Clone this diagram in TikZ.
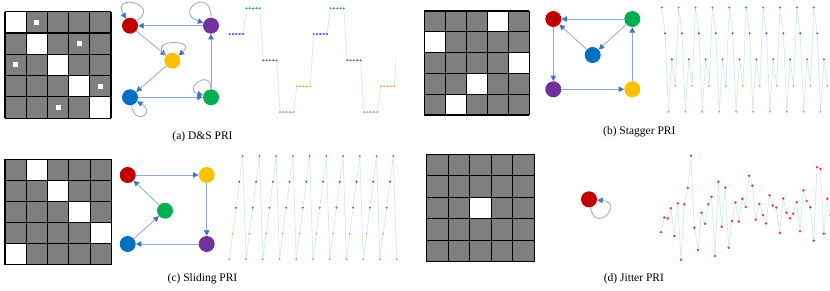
\documentclass[tikz,border=0pt]{standalone}
\usepackage{fontspec}
\setmainfont{Liberation Serif}
\usetikzlibrary{arrows.meta}
\definecolor{nred}{HTML}{C00000}
\definecolor{npurple}{HTML}{7030A0}
\definecolor{norange}{HTML}{FFC000}
\definecolor{nblue}{HTML}{0070C0}
\definecolor{ngreen}{HTML}{00B050}
\definecolor{edgec}{HTML}{8EAADB}
\definecolor{tipc}{HTML}{4472C4}
\definecolor{cellg}{HTML}{7F7F7F}
\definecolor{plinec}{HTML}{C6E3EE}
\definecolor{pgreen}{HTML}{3E9A5E}
\definecolor{pblue}{HTML}{4646F5}
\definecolor{ppurple}{HTML}{9A45B5}
\definecolor{porange}{HTML}{F2B23A}
\definecolor{pred}{HTML}{F28A8A}
\definecolor{jred}{HTML}{F53C3C}
\tikzset{
  st/.style={circle, minimum size=16pt, inner sep=0pt},
  edge/.style={draw=edgec, line width=0.8pt, -{Triangle[length=5.5pt,width=5.5pt,color=tipc]}},
  pline/.style={draw=plinec, line width=0.5pt},
  captext/.style={font=\fontsize{11.5}{13}\selectfont, inner sep=0pt},
  gline/.style={black, line width=1.1pt},
}
% grid: x0, ytop, cw, ch, white cells c/r
\newcommand\pgrid[5]{%
  \fill[cellg] (#1,-#2) rectangle ({#1+5*#3},{-#2-5*#4});
  \foreach \c/\r in {#5} \fill[white] ({#1+\c*#3},{-#2-\r*#4}) rectangle ++(#3,-#4);
  \foreach \k in {0,...,5} {
    \draw[gline] ({#1+\k*#3},-#2) -- ++(0,{-5*#4});
    \draw[gline] (#1,{-#2-\k*#4}) -- ++({5*#3},0);
  }
}
\newcommand\dslev[1]{\ifcase#1\relax\def\yy{34}\def\cc{pblue}\or\def\yy{8.3}\def\cc{pgreen}\or\def\yy{60.3}\def\cc{ppurple}\or\def\yy{112}\def\cc{pred}\or\def\yy{86.3}\def\cc{porange}\fi}
\newcommand\stlev[1]{\ifcase#1\relax\def\yy{7.5}\def\cc{pgreen}\or\def\yy{33.3}\def\cc{pblue}\or\def\yy{111.7}\def\cc{pred}\or\def\yy{59.3}\def\cc{ppurple}\or\def\yy{86}\def\cc{porange}\fi}
\newcommand\sllev[1]{\ifcase#1\relax\def\yy{259.3}\def\cc{pred}\or\def\yy{233.7}\def\cc{porange}\or\def\yy{207.7}\def\cc{ppurple}\or\def\yy{181.8}\def\cc{pblue}\or\def\yy{156.2}\def\cc{pgreen}\fi}
\begin{document}
\begin{tikzpicture}[x=1pt,y=1pt]
\useasboundingbox (0,0) rectangle (830,-290);
\fill[white] (0,0) rectangle (830,-290);

% ---------- grids ----------
\pgrid{5}{11.7}{21.2}{21.3}{0/0,1/1,2/2,3/3,4/4}
\foreach \c/\r in {1/0,3/1,0/2,4/3,2/4}
  \fill[white] ({5+(\c+0.5)*21.2-2.5},{-11.7-(\r+0.5)*21.3+2.5}) rectangle ++(5,-5);
\pgrid{424.3}{11}{21}{20.8}{3/0,0/1,4/2,2/3,1/4}
\pgrid{5}{159.3}{21.3}{21.1}{1/0,2/1,3/2,4/3,0/4}
\pgrid{426.7}{154.3}{21.5}{21.5}{2/2}

% ---------- graph (a) ----------
\node[st,fill=nred] (ar) at (130,-25.7) {};
\node[st,fill=npurple] (ap) at (211,-25.7) {};
\node[st,fill=norange] (ao) at (172.3,-60.7) {};
\node[st,fill=nblue] (ab) at (130,-97.3) {};
\node[st,fill=ngreen] (ag) at (211,-97.3) {};
\draw[edge] (ap) -- (ar);
\draw[edge] (ar) -- (ao);
\draw[edge] (ao) -- (ab);
\draw[edge] (ab) -- (ag);
\draw[edge] (ag) -- (ap);
\draw[edge] (ar) to[out=35,in=120,min distance=30pt] (ar);
\draw[edge] (ap) to[out=90,in=160,min distance=32pt] (ap);
\draw[edge] (ao) to[out=140,in=40,min distance=26pt] (ao);
\draw[edge] (ab) to[out=-80,in=-30,min distance=22pt] (ab);
\draw[edge] (ag) to[out=90,in=165,min distance=22pt] (ag);

% ---------- graph (b) ----------
\node[st,fill=nred] (br) at (553.3,-19) {};
\node[st,fill=ngreen] (bg) at (632.3,-19) {};
\node[st,fill=nblue] (bb) at (592.7,-55) {};
\node[st,fill=npurple] (bp) at (553.3,-89.3) {};
\node[st,fill=norange] (bo) at (632.3,-89.3) {};
\draw[edge] (bg) -- (br);
\draw[edge] (bb) -- (br);
\draw[edge] (bg) -- (bb);
\draw[edge] (br) -- (bp);
\draw[edge] (bp) -- (bo);
\draw[edge] (bo) -- (bg);

% ---------- graph (c) ----------
\node[st,fill=nred] (cr) at (127.7,-175) {};
\node[st,fill=norange] (co) at (206.7,-175) {};
\node[st,fill=ngreen] (cg) at (165,-210.7) {};
\node[st,fill=nblue] (cb) at (127.7,-244) {};
\node[st,fill=npurple] (cp) at (206.7,-244) {};
\draw[edge] (cr) -- (co);
\draw[edge] (co) -- (cp);
\draw[edge] (cp) -- (cb);
\draw[edge] (cb) -- (cg);
\draw[edge] (cg) -- (cr);

% ---------- graph (d) ----------
\node[st,fill=nred] (dr) at (589,-199.3) {};
\draw[edge] (dr) to[out=-80,in=-5,min distance=28pt] (dr);

% ---------- plot (a) D&S ----------
\begin{scope}
\clip (225,0) rectangle (396,-120);
\foreach \i in {0,...,50}{
  \pgfmathtruncatemacro\k{mod(floor(\i/5),5)}
  \dslev{\k}
  \coordinate (ds\i) at ({229.6+3.36*\i},-\yy);
}
\foreach \i in {0,...,49}{
  \pgfmathtruncatemacro\j{\i+1}
  \draw[pline] (ds\i) -- (ds\j);
}
\foreach \i in {0,...,50}{
  \pgfmathtruncatemacro\k{mod(floor(\i/5),5)}
  \dslev{\k}
  \fill[\cc] (ds\i) circle (1.1);
}
\end{scope}

% ---------- plot (b) Stagger ----------
\foreach \i in {0,...,49}{
  \pgfmathtruncatemacro\k{mod(\i,5)}
  \stlev{\k}
  \coordinate (sg\i) at ({661.7+3.38*\i},-\yy);
}
\foreach \i in {0,...,48}{
  \pgfmathtruncatemacro\j{\i+1}
  \draw[pline] (sg\i) -- (sg\j);
}
\foreach \i in {0,...,49}{
  \pgfmathtruncatemacro\k{mod(\i,5)}
  \stlev{\k}
  \fill[\cc] (sg\i) circle (1.1);
}

% ---------- plot (c) Sliding ----------
\foreach \i in {0,...,50}{
  \pgfmathtruncatemacro\k{mod(\i,5)}
  \sllev{\k}
  \coordinate (sl\i) at ({229.3+3.347*\i},-\yy);
}
\foreach \i in {0,...,49}{
  \pgfmathtruncatemacro\j{\i+1}
  \draw[pline] (sl\i) -- (sl\j);
}
\foreach \i in {0,...,50}{
  \pgfmathtruncatemacro\k{mod(\i,5)}
  \sllev{\k}
  \fill[\cc] (sl\i) circle (1.1);
}

% ---------- plot (d) Jitter ----------
\foreach \x/\y [count=\n] in {661/232.3,664.3/217.5,667.7/218.5,671/208.3,674.3/236,677.7/203.3,681/259.7,684.3/204.3,687.7/187.7,691/155.7,694.3/227.7,698/250,701.5/212.8,705/223.8,708.2/204.3,711.5/196.7,715/256,718.3/181.8,721.7/226.7,725.3/187.5,728.7/247.7,732/221,735.5/202.5,738.8/221.5,742.3/198.8,745.7/207,749/175.7,752.3/185.7,755.7/219.8,759.3/204,762.7/215,766/223.5,769.5/195.3,772.8/205.3,776.2/207.5,779.7/233,783.2/198.5,786.5/212.7,790/218.2,793.2/213.7,796.7/202.3,800/231.2,803.3/190.3,806.8/201,810.3/207.3,813.7/240.7,817/167.3,820.5/169,823.8/233.7,827.2/198.7,830.5/215}
  \coordinate (j\n) at (\x,-\y);
\foreach \i in {1,...,50}{
  \pgfmathtruncatemacro\j{\i+1}
  \draw[pline] (j\i) -- (j\j);
}
\foreach \i in {1,...,51}
  \fill[jred] (j\i) circle (1.4);

% ---------- captions ----------
\node[captext] (capa) at (202.5,-137) {(a) D\&S PRI};
\node[captext] (capb) at (639.3,-131.7) {(b) Stagger PRI};
\node[captext] (capc) at (202.5,-278.3) {(c) Sliding PRI};
\node[captext] (capd) at (633.9,-278.3) {(d) Jitter PRI};
\end{tikzpicture}
\end{document}
